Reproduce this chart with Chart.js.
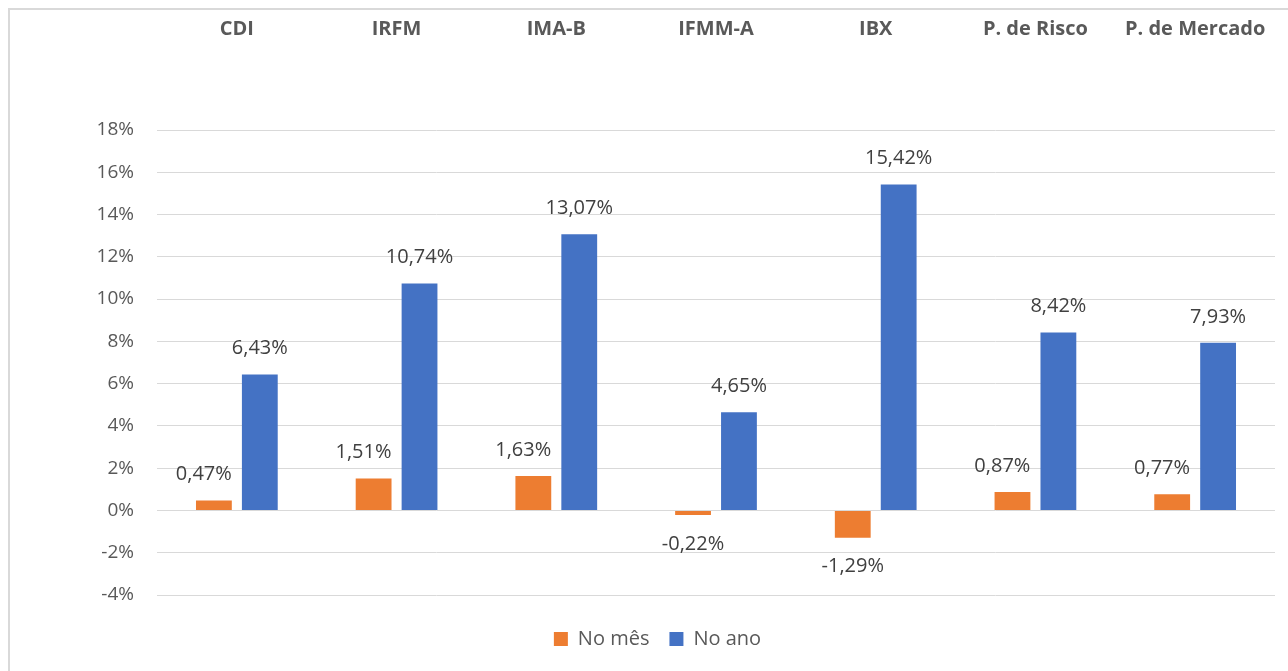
<!DOCTYPE html>
<html>
<head>
<meta charset="utf-8">
<script src="https://cdn.jsdelivr.net/npm/chart.js@4.4.1/dist/chart.umd.min.js"></script>
<style>
  html, body { margin: 0; padding: 0; background: #fff; overflow: hidden; }
  #wrap { position: relative; width: 1288px; height: 671px; }
  #frame { position: absolute; left: 8px; top: 8px; width: 1400px; height: 800px;
           border: 2px solid #d9d9d9; pointer-events: none; box-sizing: border-box; }
</style>
</head>
<body>
<div id="wrap">
  <canvas id="chart" width="1288" height="671"></canvas>
  <div id="frame"></div>
</div>
<script>
// Rentabilidade por índice: no mês x no ano
const categories = ['CDI', 'IRFM', 'IMA-B', 'IFMM-A', 'IBX', 'P. de Risco', 'P. de Mercado'];
const noMes = [0.47, 1.51, 1.63, -0.22, -1.29, 0.87, 0.77];
const noAno = [6.43, 10.74, 13.07, 4.65, 15.42, 8.42, 7.93];
const yTicks = [-4, -2, 0, 2, 4, 6, 8, 10, 12, 14, 16, 18];

const FONT = '"Open Sans", "Liberation Sans", sans-serif';
const fmt = v => v.toFixed(2).replace('.', ',') + '%';

// rótulos de dados (sem plugin externo)
const valueLabels = {
  id: 'valueLabels',
  afterDatasetsDraw(chart) {
    const ctx = chart.ctx;
    ctx.save();
    ctx.font = '20px ' + FONT;
    ctx.fillStyle = '#404040';
    ctx.textBaseline = 'middle';
    chart.data.datasets.forEach((ds, di) => {
      const meta = chart.getDatasetMeta(di);
      meta.data.forEach((bar, i) => {
        const v = ds.data[i];
        const half = bar.width / 2;
        if (v >= 0) {
          // laranja positivo: alinhado à direita da barra (evita a barra azul)
          if (di === 0) {
            ctx.textAlign = 'right';
            ctx.fillText(fmt(v), bar.x + half, bar.y - 26);
          } else {
            ctx.textAlign = 'center';
            ctx.fillText(fmt(v), bar.x, bar.y - 26);
          }
        } else {
          ctx.textAlign = 'center';
          ctx.fillText(fmt(v), bar.x, bar.y + 29);
        }
      });
    });
    ctx.restore();
  }
};

const noPad = s => { s.paddingLeft = 0; s.paddingRight = 0; };

new Chart(document.getElementById('chart').getContext('2d'), {
  type: 'bar',
  data: {
    labels: categories,
    datasets: [
      { label: 'No mês', data: noMes, backgroundColor: '#ED7D31' },
      { label: 'No ano', data: noAno, backgroundColor: '#4472C4' }
    ]
  },
  options: {
    responsive: false,
    animation: false,
    devicePixelRatio: 1,
    layout: { padding: { left: 40, right: 13, top: 0, bottom: 12 } },
    datasets: { bar: { categoryPercentage: 0.575, barPercentage: 0.78 } },
    scales: {
      x: {
        position: 'top',
        grid: { display: false },
        border: { display: false },
        ticks: { color: '#595959', font: { family: FONT, size: 20, weight: 'bold' }, padding: 81, maxRotation: 0 },
        afterFit: s => { s.height = 130; noPad(s); }
      },
      xb: {
        type: 'category',
        position: 'bottom',
        grid: { display: false },
        border: { display: false },
        ticks: { display: false },
        afterFit: s => { s.height = 14; noPad(s); }
      },
      y: {
        min: -4,
        max: 18,
        afterBuildTicks: s => { s.ticks = yTicks.map(v => ({ value: v })); },
        grid: { color: '#d9d9d9', lineWidth: 1, drawTicks: false },
        border: { display: false },
        ticks: { color: '#595959', font: { family: FONT, size: 19 }, padding: 23, callback: v => v + '%' },
        afterFit: s => { s.width = 117; s.paddingTop = 0; s.paddingBottom = 0; }
      }
    },
    plugins: {
      legend: {
        position: 'bottom',
        labels: { color: '#595959', font: { family: FONT, size: 20 }, boxWidth: 14, boxHeight: 14, padding: 20 }
      },
      tooltip: { enabled: false }
    }
  },
  plugins: [valueLabels]
});
</script>
</body>
</html>
